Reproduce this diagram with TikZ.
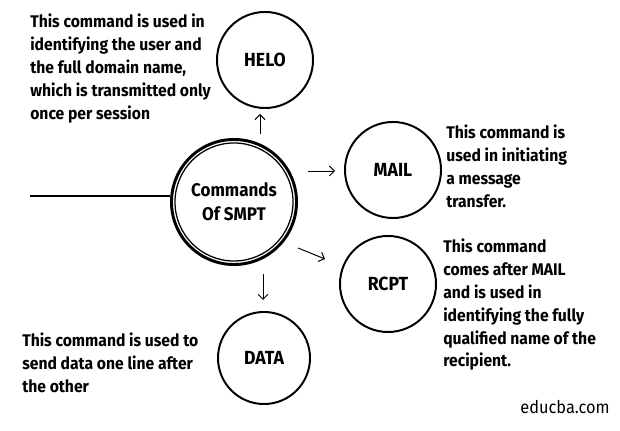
\documentclass[tikz,border=0pt]{standalone}
\usepackage{fontspec}
\setmainfont{Fira Sans}[FakeStretch=0.93]
\usetikzlibrary{arrows.meta}

\begin{document}
\begin{tikzpicture}[x=0.025cm, y=-0.025cm,
        bubble/.style={draw, circle, line width=1.4pt, minimum size=2.4cm, inner sep=0pt,
            font=\bfseries\fontsize{13.5}{15}\selectfont},
        hub/.style={draw, circle, line width=2.1pt, minimum size=3.125cm, inner sep=0pt,
            align=center, font=\bfseries\fontsize{13}{17}\selectfont},
        note/.style={anchor=north west, align=left, inner sep=0pt,
            font=\bfseries\fontsize{12}{16.2}\selectfont},
        pointer/.style={-{Straight Barb[length=3.5pt,width=7pt]}, line width=0.7pt}]
        % Fix the page to the size of the picture
        \useasboundingbox[fill=white] (0,0) rectangle (620,431);
        % The hub and the four commands
        \node[hub] (cmd) at (234,202) {Commands\\Of SMPT};
        \draw[line width=0.9pt] (cmd.center) circle[radius=1.475cm];
        \node[bubble] (helo) at (265,60) {HELO};
        \node[bubble] (mail) at (393,170) {MAIL};
        \node[bubble] (rcpt) at (388,284) {RCPT};
        \node[bubble, minimum size=2.3cm] (data) at (264,358) {DATA};
        % Line coming in from the left
        \coordinate (tail) at (30,196);
        \draw[line width=2pt] (tail) -- (tail -| cmd.west);
        % Short arrows pointing at the commands
        \coordinate (up from) at (260,134);
        \coordinate (up to) at (260,114);
        \coordinate (mail from) at (308,171);
        \coordinate (mail to) at (335,171);
        \coordinate (rcpt from) at (298,248);
        \coordinate (rcpt to) at (325,259);
        \coordinate (down from) at (263,274);
        \coordinate (down to) at (263,300);
        \draw[pointer] (up from) -- (up to);
        \draw[pointer] (mail from) -- (mail to);
        \draw[pointer] (rcpt from) -- (rcpt to);
        \draw[pointer] (down from) -- (down to);
        % What each command does
        \node[note] (helo text) at (30,14) {This command is used in\\identifying the user and\\the full domain name,\\which is transmitted only\\once per session};
        \node[note] (mail text) at (446,125) {This command is\\used in initiating\\a message\\transfer.};
        \node[note] (rcpt text) at (443,239) {This command\\comes after MAIL\\and is used in\\identifying the fully\\qualified name of the\\recipient.};
        \node[note] (data text) at (22,333) {This command is used to\\send data one line after\\the other};
        \node[anchor=base east, inner sep=0pt, font=\fontsize{12.5}{14}\selectfont] (site) at (610,414) {educba.com};
\end{tikzpicture}
\end{document}
